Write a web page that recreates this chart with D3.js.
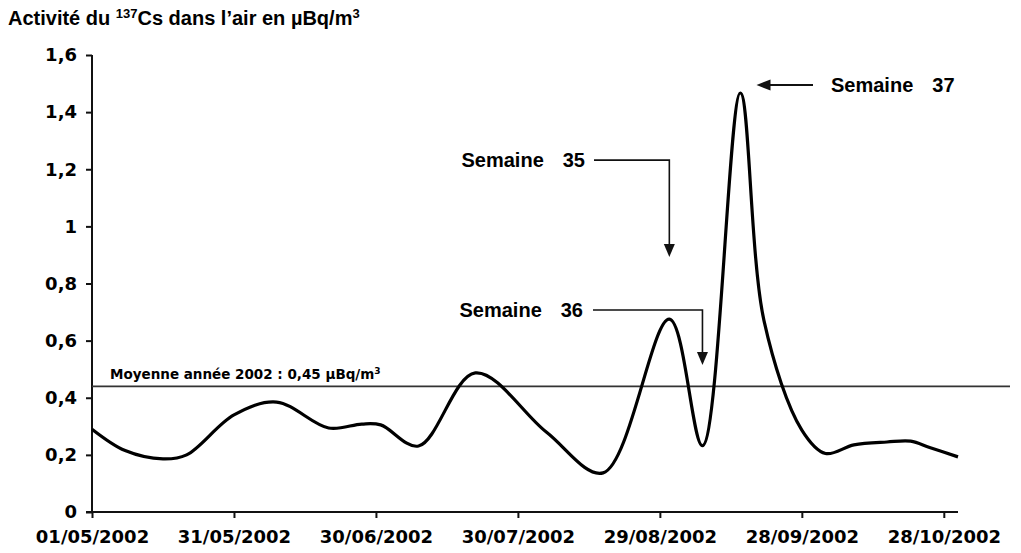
<!DOCTYPE html>
<html>
<head>
<meta charset="utf-8">
<script src="https://cdn.jsdelivr.net/npm/d3@7"></script>
<style>
  body { margin: 0; background: #fff; }
  svg { display: block; }
</style>
</head>
<body>
<script>
// Activité du 137Cs
var dates = ["01/05/2002", "08/05/2002", "16/05/2002", "21/05/2002", "31/05/2002", "09/06/2002",
  "20/06/2002", "27/06/2002", "01/07/2002", "09/07/2002", "21/07/2002", "05/08/2002",
  "17/08/2002", "31/08/2002", "07/09/2002", "15/09/2002", "20/09/2002",
  "28/09/2002", "03/10/2002", "09/10/2002", "16/10/2002", "21/10/2002", "25/10/2002", "31/10/2002"];
var values = [0.29, 0.215, 0.186, 0.2, 0.34, 0.385,
  0.294, 0.308, 0.305, 0.231, 0.487, 0.28,
  0.137, 0.675, 0.232, 1.467, 0.67,
  0.287, 0.205, 0.235, 0.245, 0.248, 0.226, 0.193];
var xTicks = ["01/05/2002", "31/05/2002", "30/06/2002", "30/07/2002", "29/08/2002", "28/09/2002", "28/10/2002"];
var yTicks = [0, 0.2, 0.4, 0.6, 0.8, 1, 1.2, 1.4, 1.6];
var moyenne = 0.44;

var width = 1021, height = 553;
var margin = { top: 55, right: 63, bottom: 41, left: 92 };

var parse = d3.utcParse("%d/%m/%Y");
var data = dates.map(function(d, i) { return { date: parse(d), value: values[i] }; });

var svg = d3.select("body").append("svg")
  .attr("width", width)
  .attr("height", height);

var x = d3.scaleUtc()
  .domain([parse("01/05/2002"), parse("31/10/2002")])
  .range([margin.left, width - margin.right]);

var y = d3.scaleLinear()
  .domain([0, 1.6])
  .range([height - margin.bottom, margin.top]);

// Titre
var title = svg.append("text")
  .attr("x", 8).attr("y", 25)
  .style("font-family", "'Liberation Sans', Arial, sans-serif")
  .style("font-weight", "bold")
  .style("font-size", "20px")
  .attr("fill", "#000");
title.append("tspan").text("Activité du ");
title.append("tspan").attr("dy", -7).style("font-size", "13px").text("137");
title.append("tspan").attr("dy", 7).text("Cs dans l’air en µBq/m");
title.append("tspan").attr("dy", -7).style("font-size", "13px").text("3");

// Axes
var yAxis = svg.append("g")
  .attr("transform", "translate(" + margin.left + ",0)")
  .call(d3.axisLeft(y).tickValues(yTicks).tickSize(6).tickPadding(9)
    .tickFormat(function(d) { return String(d).replace(".", ","); }));

var xAxis = svg.append("g")
  .attr("transform", "translate(0," + y(0) + ")")
  .call(d3.axisBottom(x).tickValues(xTicks.map(parse)).tickSize(6).tickPadding(12)
    .tickFormat(d3.utcFormat("%d/%m/%Y")));

[yAxis, xAxis].forEach(function(g) {
  g.select(".domain").remove();
  g.selectAll(".tick line").attr("stroke", "#111").attr("stroke-width", 2);
  g.selectAll("text")
    .attr("fill", "#000")
    .style("font-family", "'DejaVu Sans', Verdana, sans-serif")
    .style("font-weight", "bold")
    .style("font-size", "18px");
});

svg.append("line")
  .attr("x1", margin.left).attr("x2", margin.left)
  .attr("y1", y(1.6)).attr("y2", y(0))
  .attr("stroke", "#111").attr("stroke-width", 2);
svg.append("line")
  .attr("x1", margin.left - 6).attr("x2", x.range()[1])
  .attr("y1", y(0)).attr("y2", y(0))
  .attr("stroke", "#111").attr("stroke-width", 2);

// Moyenne annuelle
svg.append("line")
  .attr("x1", margin.left).attr("x2", x.range()[1] + 52)
  .attr("y1", y(moyenne)).attr("y2", y(moyenne))
  .attr("stroke", "#333").attr("stroke-width", 1.6);

var moy = svg.append("text")
  .attr("x", 110).attr("y", y(moyenne) - 7)
  .style("font-family", "'DejaVu Sans', Verdana, sans-serif")
  .style("font-weight", "bold")
  .style("font-size", "13.5px")
  .attr("fill", "#000");
moy.append("tspan").text("Moyenne année 2002 : 0,45 µBq/m");
moy.append("tspan").attr("dy", -5).style("font-size", "9px").text("3");

// Courbe lissée
var line = d3.line()
  .x(function(d) { return x(d.date); })
  .y(function(d) { return y(d.value); })
  .curve(d3.curveCatmullRom.alpha(0.5));

svg.append("path")
  .datum(data)
  .attr("d", line)
  .attr("fill", "none")
  .attr("stroke", "#000")
  .attr("stroke-width", 3.2)
  .attr("stroke-linejoin", "round");

// Annotations (semaines)
var font = "'Liberation Sans', Arial, sans-serif";
function label(xEnd, yv, num, anchor) {
  var t = svg.append("text")
    .attr("x", xEnd).attr("y", y(yv) + 7)
    .attr("text-anchor", anchor)
    .style("font-family", font)
    .style("font-weight", "bold")
    .style("font-size", "20px")
    .attr("fill", "#000");
  t.append("tspan").text("Semaine");
  t.append("tspan").attr("dx", 19).text(num);
}
function arrowDown(xs, xe, yv, tipV) {
  svg.append("path")
    .attr("d", "M" + xs + "," + y(yv) + "H" + xe + "V" + (y(tipV) - 10))
    .attr("fill", "none").attr("stroke", "#111").attr("stroke-width", 1.6);
  svg.append("path")
    .attr("d", "M" + (xe - 5.5) + "," + (y(tipV) - 13) + "L" + (xe + 5.5) + "," + (y(tipV) - 13) + "L" + xe + "," + y(tipV) + "Z")
    .attr("fill", "#111");
}

// Semaine 35 -> pic du 31/08
label(585, 1.232, "35", "end");
arrowDown(594, x(parse("31/08/2002")), 1.232, 0.893);
// Semaine 36 -> creux du 07/09
label(583, 0.707, "36", "end");
arrowDown(593, x(parse("07/09/2002")), 0.707, 0.515);
// Semaine 37 -> pic du 15/09
var tip37 = x(parse("18/09/2002")) + 2;
svg.append("line")
  .attr("x1", tip37 + 10).attr("x2", 813)
  .attr("y1", y(1.495)).attr("y2", y(1.495))
  .attr("stroke", "#111").attr("stroke-width", 1.8);
svg.append("path")
  .attr("d", "M" + tip37 + "," + y(1.495) + "L" + (tip37 + 14) + "," + (y(1.495) - 5.5) + "L" + (tip37 + 14) + "," + (y(1.495) + 5.5) + "Z")
  .attr("fill", "#111");
label(831, 1.495, "37", "start");
</script>
</body>
</html>
